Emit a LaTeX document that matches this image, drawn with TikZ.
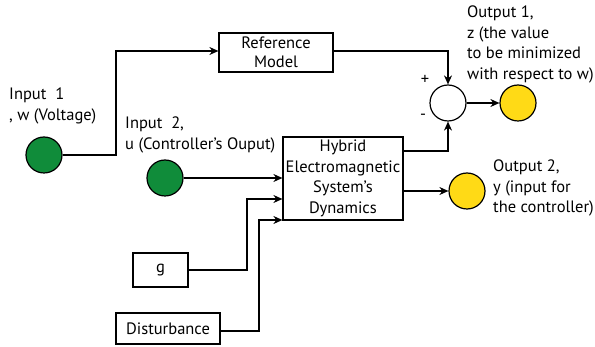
\documentclass[tikz,border=0pt]{standalone}
\usepackage{fontspec}
\setmainfont{PT Sans}
\usetikzlibrary{arrows.meta}
\definecolor{ingreen}{RGB}{16,140,58}
\definecolor{outyellow}{RGB}{255,218,22}
\begin{document}
\begin{tikzpicture}[x=1pt,y=-1pt,
  font=\fontsize{16.5}{20.5}\selectfont,
  blk/.style={draw,line width=1.2pt,inner sep=0pt,align=center},
  dot/.style={circle,draw,line width=1.2pt,minimum size=36pt,inner sep=0pt},
  lbl/.style={align=left,anchor=north west,inner sep=0pt},
  wire/.style={line width=1.2pt},
  arr/.style={line width=1.2pt,-{Stealth[length=9pt,width=8pt]}}]
\useasboundingbox (0,0) rectangle (595,347);
% blocks
\node[blk,minimum width=114pt,minimum height=39pt,font=\fontsize{16.5}{19}\selectfont] (ref) at (276,52.5) {Reference\\Model};
\node[blk,minimum width=120pt,minimum height=83pt] (sys) at (343,178.5) {Hybrid\\Electromagnetic\\System’s\\Dynamics};
\node[blk,minimum width=55pt,minimum height=34pt] (g) at (160.5,270) {g};
\node[blk,minimum width=104pt,minimum height=31pt] (dist) at (168,328.5) {Disturbance};
% circles
\node[dot,fill=ingreen] (in1) at (44,155) {};
\node[dot,fill=ingreen] (in2) at (165,178) {};
\node[dot,fill=white] (sum) at (448,103) {};
\node[dot,fill=outyellow] (out1) at (518,103) {};
\node[dot,fill=outyellow] (out2) at (467,191) {};
% labels
\node[lbl] (l1) at (9,88) {Input\ \ 1\\, w (Voltage)};
\node[lbl] (l2) at (125,117) {Input\ \ 2,\\u (Controller’s Ouput)};
\node[lbl] (l3) at (467,6) {Output 1,\\z (the value\\to be minimized\\with respect to w)};
\node[lbl] (l4) at (493,160) {Output 2,\\y (input for\\the controller)};
\node (plus) at (425,80) {+};
\node (minus) at (423,117) {-};
% connectors
\coordinate (a1) at (116,155);
\coordinate (a2) at (116,51);
\draw[arr] (in1.east) -- (a1) -- (a2) -- (ref.west |- a2);
\draw[arr] (in2.east) -- (sys.west |- in2.east);
\coordinate (b1) at (247,270);
\coordinate (b2) at (247,199);
\draw[arr] (g.east) -- (b1) -- (b2) -- (sys.west |- b2);
\coordinate (c1) at (259,331);
\coordinate (c2) at (259,220);
\draw[arr] (dist.east |- c1) -- (c1) -- (c2) -- (sys.west |- c2);
\coordinate (d1) at (448,51);
\draw[arr] (ref.east |- d1) -- (d1) -- (sum.north);
\coordinate (e1) at (448,151);
\draw[arr] (sys.east |- e1) -- (e1) -- (sum.south);
\draw[arr] (sum.east) -- (out1.west);
\draw[arr] (sys.east |- out2.west) -- (out2.west);
\end{tikzpicture}
\end{document}
